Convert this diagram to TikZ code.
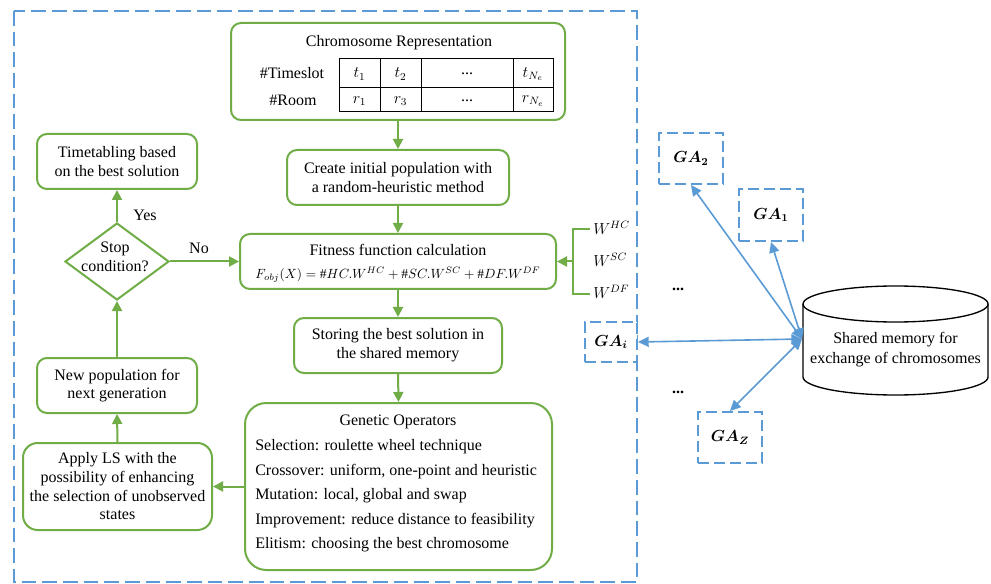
\documentclass[tikz,border=0pt]{standalone}
\usepackage{amsmath}
\usepackage{fontspec}
\setmainfont{Liberation Serif}
\usetikzlibrary{arrows.meta,shapes.geometric}
\definecolor{gr}{HTML}{70AD47}
\definecolor{bl}{HTML}{5B9BD5}
\begin{document}
\begin{tikzpicture}[x=0.75pt,y=-0.75pt,font=\fontsize{12}{14}\selectfont,
  box/.style={draw=gr,line width=1.5pt,rounded corners=7.5pt,align=center,inner sep=0pt,fill=white},
  garr/.style={draw=gr,line width=1.5pt,-{Triangle[length=7.5pt,width=7.5pt]}},
  gline/.style={draw=gr,line width=1.5pt},
  outerdash/.style={draw=bl,line width=1.5pt,dash pattern=on 11pt off 4.5pt},
  gabox/.style={draw=bl,line width=1.5pt,dash pattern=on 8pt off 4pt,fill=white,inner sep=0pt,font=\fontsize{11.5}{13}\selectfont},
  barr/.style={draw=bl,line width=1.2pt,{Triangle[length=8pt,width=7.5pt]}-{Triangle[length=8pt,width=7.5pt]}},
  cyl/.style={draw=black,line width=1pt,fill=white},
  tbl/.style={draw=black,line width=0.75pt},
  txt/.style={inner sep=0pt}]
\useasboundingbox[fill=white] (0,0) rectangle (991,584);
\draw[outerdash] (14,11) rectangle (637,582);

% chromosome representation
\node[box,minimum width=250.5pt,minimum height=72.75pt] (chrom) at (398,71.5) {};
\node[txt] (chromt) at (399,43) {Chromosome Representation};
\draw[tbl] (339,59) rectangle (553,112);
\draw[tbl] (339,88) -- (553,88);
\foreach \xx in {380,421,513} \draw[tbl] (\xx,59) -- (\xx,112);
\node[txt] (rowt) at (292,73) {\#Timeslot};
\node[txt] (rowr) at (293,100) {\#Room};
\node[txt] (c11) at (359.5,74) {$t_1$};
\node[txt] (c12) at (400.5,74) {$t_2$};
\node[txt] (c13) at (467,74) {...};
\node[txt] (c14) at (533,74) {$t_{N_e}$};
\node[txt] (c21) at (359.5,101) {$r_1$};
\node[txt] (c22) at (400.5,101) {$r_3$};
\node[txt] (c23) at (467,101) {...};
\node[txt] (c24) at (533,101) {$r_{N_e}$};

% main column
\node[box,minimum width=166.5pt,minimum height=41.25pt] (create) at (398,177.5) {Create initial population with\\a random-heuristic method};
\node[box,minimum width=237pt,minimum height=41.25pt] (fit) at (398,261.5) {};
\node[txt] (fitt) at (398,250) {Fitness function calculation};
\node[txt,font=\fontsize{10.2}{12}\selectfont] (fitf) at (398,275) {$F_{obj}(X)=\#HC.W^{HC}+\#SC.W^{SC}+\#DF.W^{DF}$};
\node[box,minimum width=156pt,minimum height=41.25pt] (store) at (398,345.5) {Storing the best solution in\\the shared memory};
\node[box,rounded corners=16pt,minimum width=230.25pt,minimum height=125.25pt] (gen) at (398.5,486.5) {};
\node[txt] (gent) at (398,422) {Genetic Operators};
\node[txt,anchor=west] (g1) at (255,447) {Selection: roulette wheel technique};
\node[txt,anchor=west] (g2) at (255,472) {Crossover: uniform, one-point and heuristic};
\node[txt,anchor=west] (g3) at (255,496) {Mutation: local, global and swap};
\node[txt,anchor=west] (g4) at (255,521) {Improvement: reduce distance to feasibility};
\node[txt,anchor=west] (g5) at (255,545) {Elitism: choosing the best chromosome};

% left column
\node[box,rounded corners=11pt,minimum width=141.75pt,minimum height=65.25pt] (apply) at (117.5,486.5) {Apply LS with the\\possibility of enhancing\\the selection of unobserved\\states};
\node[box,minimum width=120pt,minimum height=41.25pt] (newpop) at (117,385.5) {New population for\\next generation};
\node[draw=gr,line width=1.5pt,diamond,aspect=1.35,inner sep=0pt,minimum width=78pt,minimum height=57.75pt,fill=white] (diam) at (117,261.5) {};
\node[txt,align=center] (diamt) at (115,257) {Stop\\condition?};
\node[box,minimum width=120pt,minimum height=41.25pt] (tt) at (117,161.5) {Timetabling based\\on the best solution};

% weights
\coordinate (wb) at (573,261.5);
\draw[gline] (590,229) -- (573,229) -- (573,294) -- (590,294);
\node[txt,anchor=west] (whc) at (593,228) {$W^{HC}$};
\node[txt,anchor=west] (wsc) at (593,260) {$W^{SC}$};
\node[txt,anchor=west] (wdf) at (593,292) {$W^{DF}$};

% green arrows
\draw[garr] (chrom.south) -- (create.north);
\draw[garr] (create.south) -- (fit.north);
\draw[garr] (fit.south) -- (store.north);
\draw[garr] (store.south) -- (gen.north);
\draw[garr] (wb) -- (fit.east);
\draw[garr] (gen.west) -- (apply.east);
\draw[garr] (apply.north) -- (newpop.south);
\draw[garr] (newpop.north) -- (diam.south);
\draw[garr] (diam.north) -- (tt.south);
\draw[garr] (diam.east) -- (fit.west);
\node[txt] (yes) at (145,215) {Yes};
\node[txt] (no) at (199,248) {No};

% shared memory cylinder
\draw[cyl] (803,304) -- (803,377) arc[start angle=180,end angle=360,x radius=69.375pt,y radius=13.5pt] -- (988,304);
\draw[cyl] (895.5,304) ellipse[x radius=69.375pt,y radius=13.5pt];
\node[txt,align=center,font=\fontsize{12}{15}\selectfont] (mem) at (895.5,350) {Shared memory for\\exchange of chromosomes};

% GA boxes
\node[gabox,minimum width=48pt,minimum height=38.25pt] (ga2) at (691,158.5) {$\boldsymbol{GA_2}$};
\node[gabox,minimum width=48pt,minimum height=39pt] (ga1) at (771,215) {$\boldsymbol{GA_1}$};
\node[gabox,minimum width=39pt,minimum height=30pt] (gai) at (611,342) {$\boldsymbol{GA_i}$};
\node[gabox,minimum width=48pt,minimum height=38.25pt] (gaz) at (730,437.5) {$\boldsymbol{GA_Z}$};
\node[txt] (dots1) at (678,289) {\textbf{...}};
\node[txt] (dots2) at (678,392) {\textbf{...}};

\coordinate (hub) at (802,339);
\draw[barr] (hub) -- (ga2.south);
\draw[barr] (hub) -- (ga1.south);
\draw[barr] (hub) -- (gai.east);
\draw[barr] (hub) -- (gaz.north);
\end{tikzpicture}
\end{document}
